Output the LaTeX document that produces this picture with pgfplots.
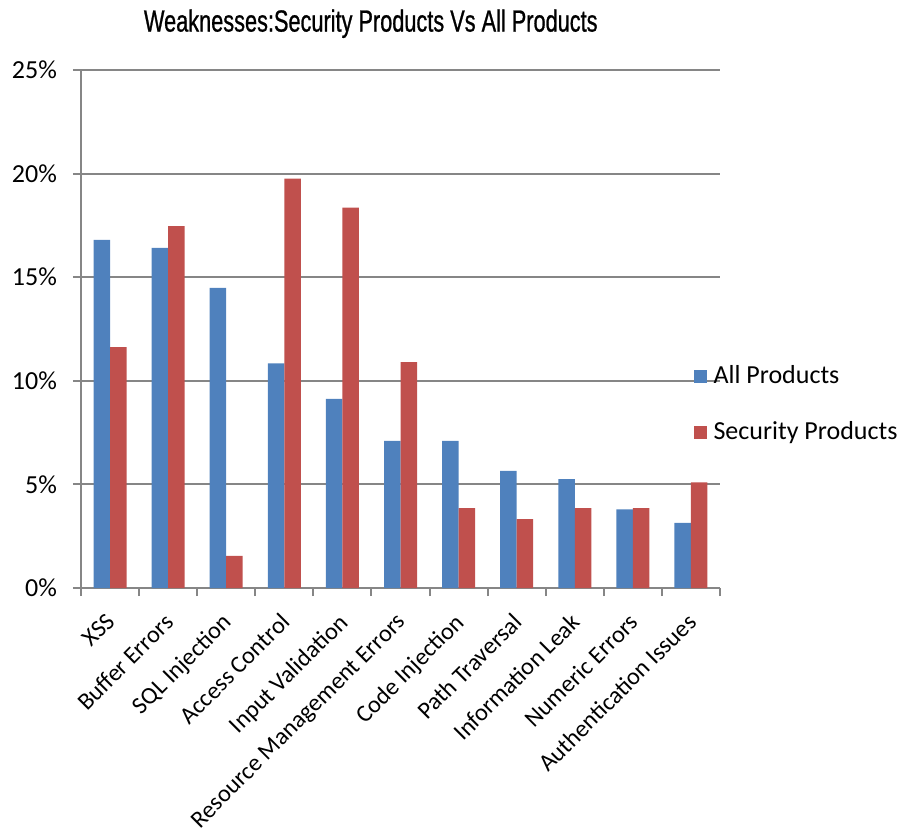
\documentclass[border=0pt]{standalone}
\usepackage{pgfplots}
\pgfplotsset{compat=1.18}
\usepackage{fontspec}
\setmainfont{Carlito}
\newfontfamily\titlefont[FakeStretch=0.71, FakeBold=0.8]{Liberation Sans}
\definecolor{allp}{HTML}{4F81BD}
\definecolor{secp}{HTML}{C0504D}
\definecolor{gridc}{HTML}{868686}
\begin{document}
\begin{tikzpicture}
\path[use as bounding box] (-40.5pt,-123pt) rectangle (411.5pt,294pt);
\begin{axis}[
  at={(0pt,0pt)}, anchor=south west,
  scale only axis, width=319.5pt, height=259pt,
  clip=false,
  ybar=0pt, bar width=8.25pt,
  xmin=-0.5, xmax=10.5, ymin=0, ymax=25,
  axis lines*=left,
  axis line style={-, gridc, line width=1pt},
  ytick={0,5,10,15,20,25},
  yticklabel={\pgfmathprintnumber{\tick}\%},
  /pgf/number format/assume math mode=true,
  ymajorgrids, major grid style={gridc, line width=1pt},
  ytick style={gridc, line width=1pt},
  xtick={0,...,10},
  xticklabels={XSS, Buffer Errors, SQL Injection, Access Control, Input Validation, Resource Management Errors, Code Injection, Path Traversal, Information Leak, Numeric Errors, Authentication Issues},
  major x tick style={draw=none},
  minor xtick={-0.5,0.5,...,10.5},
  minor x tick style={draw=gridc, line width=1pt},
  tick align=outside, major tick length=4pt, minor tick length=4pt,
  y tick label style={font=\fontsize{13}{15}\selectfont, xshift=-4.5pt},
  x tick label style={font=\fontsize{12.1}{14}\selectfont, rotate=45, anchor=north east, inner sep=1pt, xshift=-6.3pt, yshift=-2.7pt},
  legend style={draw=none, fill=none, at={(0.958,0.355)}, anchor=west,
    font=\fontsize{13}{15}\selectfont, row sep=17.5pt, inner sep=0pt,
    nodes={inner sep=0pt}},
  legend cell align=left,
]
\addplot[fill=allp, draw=none, legend image code/.code={\fill[allp] (0pt,-3.25pt) rectangle (6.5pt,3.25pt);}] coordinates {
(0,16.8) (1,16.41) (2,14.49) (3,10.84) (4,9.13) (5,7.10) (6,7.10) (7,5.65) (8,5.25) (9,3.80) (10,3.14)};
\addplot[fill=secp, draw=none, legend image code/.code={\fill[secp] (0pt,-3.25pt) rectangle (6.5pt,3.25pt);}] coordinates {
(0,11.63) (1,17.47) (2,1.55) (3,19.76) (4,18.36) (5,10.9) (6,3.85) (7,3.32) (8,3.85) (9,3.85) (10,5.10)};
\legend{\hspace{3.5pt}All Products, \hspace{3.5pt}Security Products}
\node[font=\titlefont\fontsize{15.3}{18}\selectfont, anchor=base, yshift=19.2pt] at (rel axis cs:0.4535,1) {Weaknesses:Security Products Vs All Products};
\end{axis}
\end{tikzpicture}
\end{document}
